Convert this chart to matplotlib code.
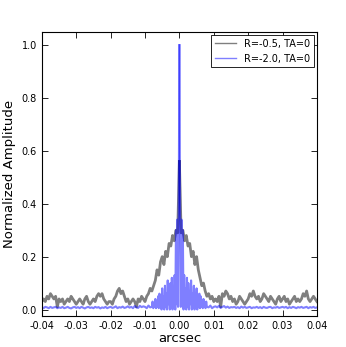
import numpy as np
import matplotlib
matplotlib.use('Agg')
import matplotlib.pyplot as plt
from matplotlib.ticker import FormatStrFormatter

# gray curve: uniform 0.0005 arcsec grid
x_gray = np.linspace(-0.04, 0.04, 161)

# R=-0.5, TA=0
gray = [
    0.03, 0.04, 0.03, 0.05, 0.04, 0.06, 0.05, 0.04, 0.05, 0.01,
    0.04, 0.03, 0.04, 0.02, 0.03, 0.04, 0.03, 0.05, 0.04, 0.03,
    0.02, 0.03, 0.04, 0.03, 0.02, 0.04, 0.05, 0.03, 0.02, 0.03,
    0.04, 0.03, 0.05, 0.06, 0.05, 0.06, 0.04, 0.03, 0.02, 0.03,
    0.03, 0.02, 0.04, 0.05, 0.07, 0.08, 0.06, 0.07, 0.05, 0.03,
    0.04, 0.02, 0.03, 0.04, 0.03, 0.01, 0.04, 0.03, 0.05, 0.04,
    0.03, 0.05, 0.06, 0.08, 0.07, 0.09, 0.11, 0.15, 0.13, 0.18,
    0.20, 0.17, 0.22, 0.20, 0.25, 0.24, 0.28, 0.26, 0.30, 0.29,
    0.56,
    0.29, 0.30, 0.26, 0.28, 0.24, 0.25, 0.20, 0.22, 0.17, 0.20,
    0.15, 0.12, 0.09, 0.10, 0.07, 0.05, 0.06, 0.04, 0.05, 0.03,
    0.04, 0.03, 0.05, 0.01, 0.06, 0.05, 0.07, 0.06, 0.04, 0.05,
    0.03, 0.04, 0.02, 0.03, 0.05, 0.04, 0.03, 0.02, 0.03, 0.04,
    0.06, 0.05, 0.07, 0.05, 0.04, 0.05, 0.03, 0.04, 0.06, 0.05,
    0.04, 0.03, 0.05, 0.04, 0.03, 0.02, 0.04, 0.05, 0.03, 0.04,
    0.05, 0.03, 0.04, 0.02, 0.03, 0.04, 0.05, 0.03, 0.04, 0.03,
    0.04, 0.06, 0.05, 0.07, 0.04, 0.03, 0.04, 0.05, 0.04, 0.03,
]

# blue curve: coarse outer wings plus a fine 0.0002 arcsec core
x_blue = np.concatenate([
    np.linspace(-0.04, -0.0085, 64),
    np.linspace(-0.008, 0.008, 81),
    np.linspace(0.0085, 0.04, 64),
])

# R=-2.0, TA=0
blue_left = [
    0.010, 0.005, 0.010, 0.008, 0.005, 0.010, 0.006, 0.008, 0.010, 0.005,
    0.008, 0.006, 0.010, 0.005, 0.007, 0.010, 0.006, 0.004, 0.008, 0.010,
    0.006, 0.009, 0.005, 0.010, 0.007, 0.004, 0.008, 0.010, 0.006, 0.008,
    0.005, 0.010, 0.007, 0.009, 0.004, 0.008, 0.006, 0.010, 0.005, 0.008,
    0.010, 0.006, 0.008, 0.012, 0.005, 0.009, 0.007, 0.011, 0.006, 0.008,
    0.012, 0.007, 0.010, 0.005, 0.013, 0.008, 0.006, 0.014, 0.009, 0.012,
    0.010, 0.005, 0.015, 0.008,
]
blue_core = [
    0.010, 0.030, 0.005, 0.020, 0.010, 0.040, 0.005, 0.030, 0.010, 0.050,
    0.005, 0.060, 0.010, 0.040, 0.000, 0.080, 0.010, 0.050, 0.000, 0.090,
    0.010, 0.060, 0.000, 0.110, 0.020, 0.070, 0.000, 0.100, 0.010, 0.120,
    0.000, 0.080, 0.020, 0.130, 0.000, 0.300, 0.020, 0.340, 0.010, 0.360,
    1.000,
    0.360, 0.010, 0.340, 0.020, 0.300, 0.000, 0.130, 0.020, 0.080, 0.000,
    0.120, 0.010, 0.100, 0.000, 0.070, 0.020, 0.110, 0.000, 0.060, 0.010,
    0.090, 0.000, 0.050, 0.010, 0.080, 0.000, 0.040, 0.010, 0.060, 0.005,
    0.050, 0.010, 0.030, 0.005, 0.040, 0.010, 0.020, 0.005, 0.030, 0.010,
]
blue_right = [
    0.008, 0.015, 0.005, 0.010,
    0.012, 0.008, 0.014, 0.006, 0.010, 0.013, 0.007, 0.011, 0.006, 0.009,
    0.008, 0.010, 0.006, 0.009, 0.005, 0.011, 0.007, 0.010, 0.006, 0.008,
    0.010, 0.005, 0.008, 0.007, 0.010, 0.006, 0.009, 0.005, 0.010, 0.007,
    0.006, 0.009, 0.010, 0.005, 0.008, 0.007, 0.010, 0.006, 0.008, 0.010,
    0.007, 0.010, 0.005, 0.009, 0.006, 0.010, 0.008, 0.005, 0.009, 0.007,
    0.010, 0.006, 0.008, 0.010, 0.005, 0.009, 0.007, 0.010, 0.006, 0.008,
]
blue = np.array(blue_left + blue_core + blue_right)
gray = np.array(gray)

plt.rcParams['xtick.direction'] = 'in'
plt.rcParams['ytick.direction'] = 'in'
plt.rcParams['xtick.top'] = True
plt.rcParams['ytick.right'] = True

fig = plt.figure(figsize=(3.46, 3.47), dpi=100)
ax = fig.add_axes([0.121, 0.089, 0.795, 0.819])

# each profile is drawn as two halves that meet at the centre
gc = len(gray) // 2
bc = len(blue_left) + len(blue_core) // 2
ax.plot(x_gray[:gc + 1], gray[:gc + 1], color='black', alpha=0.5, lw=2, label='R=-0.5, TA=0')
ax.plot(x_gray[gc:], gray[gc:], color='black', alpha=0.5, lw=2)
ax.plot(x_blue[:bc + 1], blue[:bc + 1], color='blue', alpha=0.5, lw=1.5, label='R=-2.0, TA=0')
ax.plot(x_blue[bc:], blue[bc:], color='blue', alpha=0.5, lw=1.5)

ax.set_xlim(-0.04, 0.04)
ax.set_ylim(-0.025, 1.05)
ax.set_xticks(np.arange(-0.04, 0.041, 0.01))
ax.set_yticks([0.0, 0.2, 0.4, 0.6, 0.8, 1.0])
ax.xaxis.set_major_formatter(FormatStrFormatter('%.2f'))
ax.yaxis.set_major_formatter(FormatStrFormatter('%.1f'))
ax.tick_params(labelsize=7, length=4, width=0.6)
for s in ax.spines.values():
    s.set_linewidth(0.8)

ax.set_xlabel('arcsec', fontsize=9.5, labelpad=1)
ax.set_ylabel('Normalized Amplitude', fontsize=9.5)

leg = ax.legend(loc='upper right', fontsize=7, fancybox=False, framealpha=1,
                handlelength=2.2, borderaxespad=0.3)
leg.get_frame().set_edgecolor('black')
leg.get_frame().set_linewidth(0.6)
for line in leg.get_lines():
    line.set_linewidth(1)

fig.savefig('out.png', dpi=100)
